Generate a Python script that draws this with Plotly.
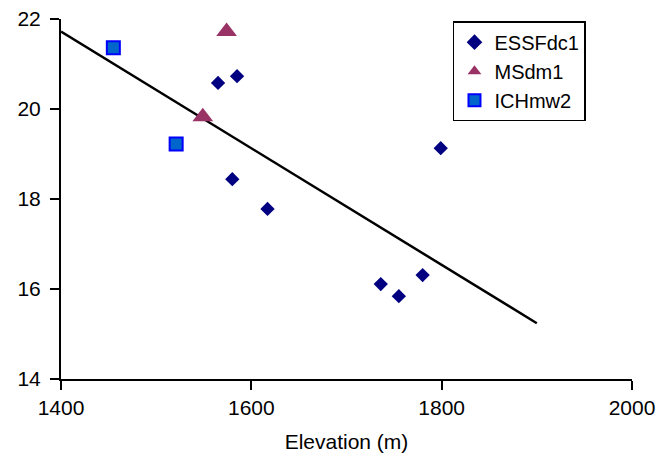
import plotly.graph_objects as go

essf_x = [1565, 1585, 1580, 1617, 1736, 1755, 1780, 1799]
essf_y = [20.58, 20.73, 18.44, 17.78, 16.11, 15.84, 16.31, 19.13]
ms_x = [1574, 1549]
ms_y = [21.72, 19.83]
ich_x = [1455, 1521]
ich_y = [21.36, 19.22]
trend_x = [1400, 1900]
trend_y = [21.72, 15.24]

FONT = "Liberation Sans, Arial, sans-serif"

fig = go.Figure()
fig.add_trace(go.Scatter(x=trend_x, y=trend_y, mode="lines",
                         line=dict(color="black", width=2.5), showlegend=False, hoverinfo="skip"))
fig.add_trace(go.Scatter(x=essf_x, y=essf_y, mode="markers", name="ESSFdc1",
                         marker=dict(symbol="diamond", size=11, color="#000080")))
fig.add_trace(go.Scatter(x=ms_x, y=ms_y, mode="markers", name="MSdm1",
                         marker=dict(symbol="triangle-up", size=18, color="#993366")))
fig.add_trace(go.Scatter(x=ich_x, y=ich_y, mode="markers", name="ICHmw2",
                         marker=dict(symbol="square", size=13, color="#0066CC",
                                     line=dict(color="#0000FF", width=2))))

fig.update_layout(
    width=671, height=465,
    margin=dict(l=53, r=47, t=11, b=94),
    paper_bgcolor="white", plot_bgcolor="white",
    font=dict(family=FONT, size=21, color="black"),
    legend=dict(x=0.6865, y=0.994, xanchor="left", yanchor="top",
                bordercolor="black", borderwidth=1.5, bgcolor="white",
                font=dict(size=20), itemsizing="constant", tracegroupgap=0,
                itemwidth=30),
    xaxis=dict(range=[1400, 2000], tickvals=[1400, 1600, 1800, 2000],
               showgrid=False, zeroline=False, showline=True, linecolor="black", linewidth=2,
               ticks="outside", ticklen=9, tickwidth=2, tickcolor="black", automargin=False,
               tickfont=dict(size=21), ticklabeloverflow="allow",
               title=dict(text="Elevation (m)", font=dict(size=21), standoff=16)),
    yaxis=dict(range=[14, 22], tickvals=[14, 16, 18, 20, 22],
               showgrid=False, zeroline=False, showline=True, linecolor="black", linewidth=2,
               ticks="outside", ticklen=9, tickwidth=2, tickcolor="black", automargin=False,
               tickfont=dict(size=21), ticklabelstandoff=5, ticklabeloverflow="allow"),
)

fig.write_html("out.html")
